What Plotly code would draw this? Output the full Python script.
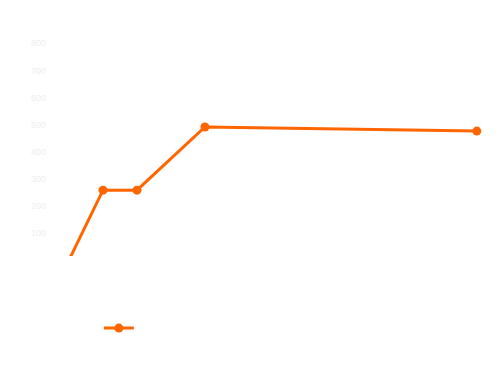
import plotly.graph_objects as go

x_vals = [0, 1, 2, 4, 12]
y_vals = [0, 258, 258, 491, 476]
series_name = "Series 1"
tick_vals = [100, 200, 300, 400, 500, 600, 700, 800]

fig = go.Figure()
fig.add_trace(go.Scatter(
    x=x_vals, y=y_vals, mode="lines+markers", name=series_name,
    line=dict(color="#ff6600", width=3),
    marker=dict(color="#ff6600", size=9),
))

fig.update_layout(
    width=500, height=375,
    margin=dict(l=61, r=21, t=22, b=127),
    paper_bgcolor="white", plot_bgcolor="white",
    showlegend=True,
    legend=dict(orientation="h", x=0.0715, xanchor="left", y=-0.319, yanchor="middle",
                font=dict(color="white", size=11), bgcolor="rgba(0,0,0,0)"),
    font=dict(family="Liberation Sans, Arial, sans-serif"),
)
fig.update_xaxes(range=[0, 12.3], showgrid=False, zeroline=False, showline=False,
                 showticklabels=False, ticks="")
fig.update_yaxes(range=[15, 849], tickvals=tick_vals, showgrid=False, zeroline=False,
                 showline=False, ticks="", ticklabelstandoff=22,
                 tickfont=dict(color="#eeeeee", size=9))

fig.write_html("out.html")
